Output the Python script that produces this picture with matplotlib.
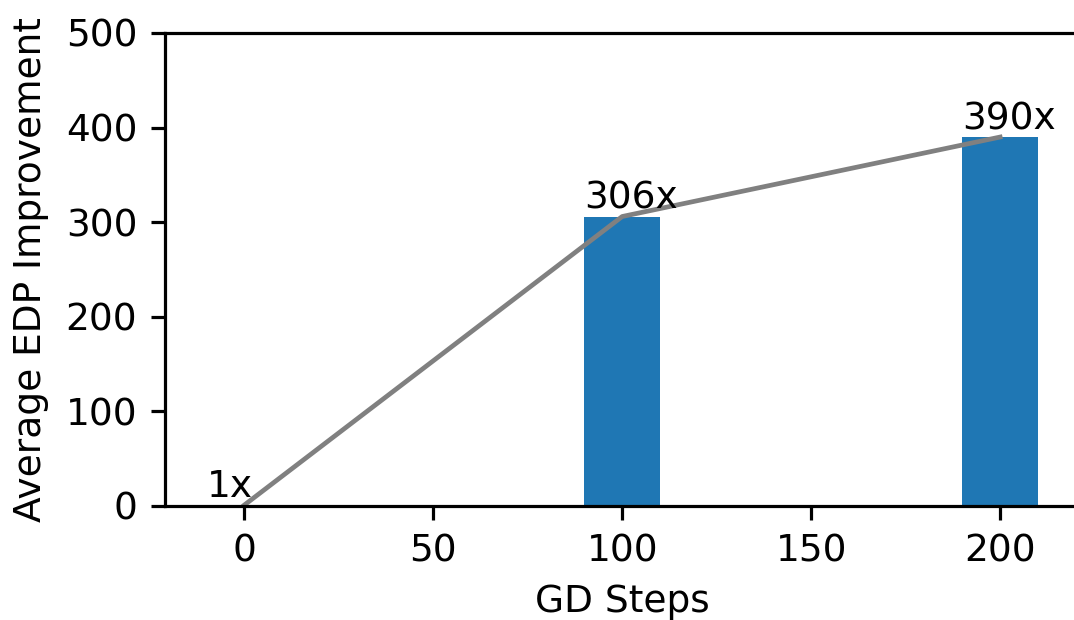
import matplotlib
matplotlib.use("Agg")
import matplotlib.pyplot as plt

# GD steps and the average EDP improvement reached at each
steps = [0, 100, 200]
improvement = [1, 306, 390]
labels = ["1x", "306x", "390x"]

bar_width = 20
fs = 27
lw = 2.3

plt.rcParams.update({
    "font.size": fs,
    "axes.linewidth": lw,
    "xtick.major.size": 10,
    "ytick.major.size": 10,
    "xtick.major.width": lw,
    "ytick.major.width": lw,
    "xtick.major.pad": 10,
    "ytick.major.pad": 10,
})

fig = plt.figure(figsize=(10.74, 6.2), dpi=100)
ax = fig.add_axes([0.1536, 0.1839, 0.8515, 0.7629])

ax.bar(steps, improvement, width=bar_width, color="#1f77b4")
ax.plot(steps, improvement, color="gray", linewidth=3.4)

for x, y, t in zip(steps, improvement, labels):
    ax.text(x - bar_width / 2, y, t, ha="left", va="bottom", fontsize=fs)

ax.set_ylim(0, 500)
ax.set_yticks([0, 100, 200, 300, 400, 500])
ax.set_xticks([0, 50, 100, 150, 200])
ax.set_xlabel("GD Steps", labelpad=10)
ax.set_ylabel("Average EDP Improvement", labelpad=12)

fig.savefig("out.png", dpi=100)
